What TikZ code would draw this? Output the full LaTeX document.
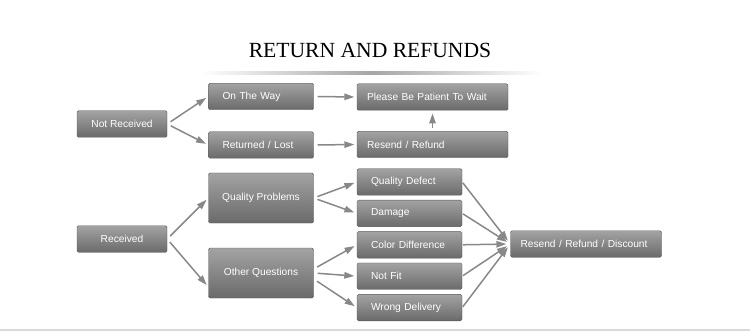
\documentclass[tikz,border=0pt]{standalone}
\usepackage{fontspec}
\newfontfamily\boxfont{Liberation Sans}
\newfontfamily\titlefont{Liberation Serif}
\usetikzlibrary{arrows.meta,positioning,calc}
\definecolor{boxtop}{HTML}{A3A3A3}
\definecolor{boxbot}{HTML}{6A6A6A}
\definecolor{boxedge}{HTML}{555555}
\definecolor{arrgray}{HTML}{888888}

\begin{document}
\begin{tikzpicture}[x=1pt, y=-1pt,
  item/.style={draw=boxedge, rounded corners=1.5pt,
               top color=boxtop, bottom color=boxbot, text=white,
               font=\boxfont\fontsize{10.2}{12}\selectfont,
               minimum height=26.5pt, inner ysep=0pt},
  cbox/.style={item, align=center, inner xsep=0pt, minimum width=90pt},
  tallbox/.style={item, align=center, inner xsep=0pt,
                  minimum width=105pt, minimum height=50pt},
  sbox/.style={item, align=left, inner xsep=14pt, text width=77pt},
  wbox/.style={item, align=left, inner xsep=10pt, text width=131pt},
  arr/.style={-{Triangle[length=10pt,width=6.5pt]}, arrgray, line width=1.5pt,
              shorten <=4pt, shorten >=2.5pt},
]
  \useasboundingbox (0,0) rectangle (750,334);

  %% Title with shaded rule
  \node[font=\titlefont\fontsize{21.6}{24}\selectfont] (title) at (370,50)
    {RETURN AND REFUNDS};
  \shade[left color=white, right color=white, middle color=black!35]
    (200,72) rectangle (543,75);
  \draw[black!15, line width=1.5pt] (0,330) -- (750,330);

  %% Not received branch
  \node[cbox] (nr) at (122,124) {Not Received};
  \node[sbox] (otw) at (261,96.5) {On The Way};
  \node[sbox] (rl) at (261,145) {Returned / Lost};
  \node[wbox] (pbp) at (432.5,97) {Please Be Patient To Wait};
  \node[wbox] (rr) at (432.5,144.5) {Resend / Refund};

  %% Received branch
  \node[cbox] (rc) at (122,239) {Received};
  \node[tallbox] (qp) at (261,198) {Quality Problems};
  \node[tallbox] (oq) at (261,273) {Other Questions};

  \node[sbox] (qd) at (409.5,182) {Quality Defect};
  \node[sbox, below=4.5pt of qd] (dm) {Damage};
  \node[sbox, below=4.5pt of dm] (cd) {Color Difference};
  \node[sbox, below=4.5pt of cd] (nf) {Not Fit};
  \node[sbox, below=4.5pt of nf] (wd) {Wrong Delivery};

  \node[wbox] (rrd) at (586,244) {Resend / Refund / Discount};

  %% Arrows
  \draw[arr] (nr.east) -- (otw.west);
  \draw[arr] (nr.east) -- (rl.west);
  \draw[arr] (otw.east) -- (pbp.west);
  \draw[arr] (rl.east) -- (rr.west);
  \draw[arr, shorten <=3pt, shorten >=3pt] (rr.north) -- (pbp.south);

  \draw[arr] (rc.east) -- (qp.west);
  \draw[arr] (rc.east) -- ($(oq.west)+(0,14)$);
  \draw[arr] (qp.east) -- (qd.west);
  \draw[arr] (qp.east) -- (dm.west);
  \draw[arr] ($(oq.east)+(0,-4)$) -- (cd.west);
  \draw[arr] (oq.east) -- (nf.west);
  \draw[arr] ($(oq.east)+(0,6)$) -- (wd.west);

  \foreach \src in {qd,dm,cd,nf,wd}
    \draw[arr, shorten <=1pt, shorten >=4pt] (\src.east) -- (rrd.west);
\end{tikzpicture}
\end{document}
